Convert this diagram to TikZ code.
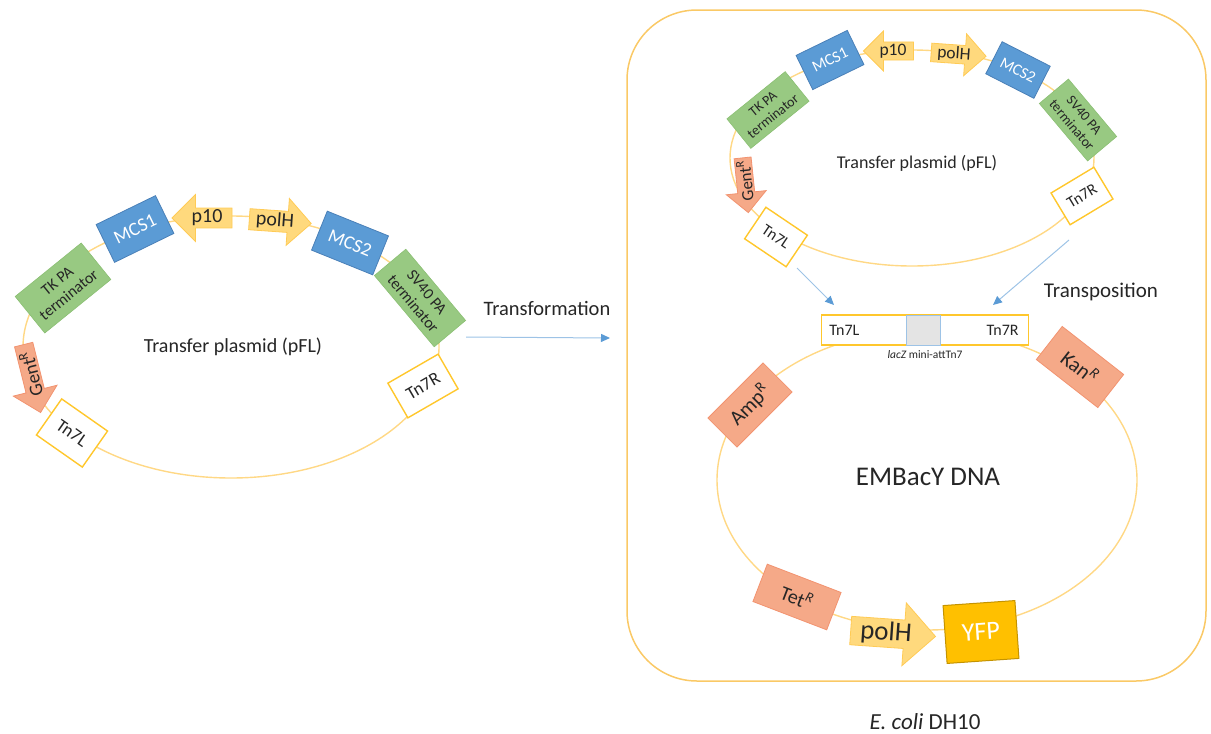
\documentclass[tikz,border=0pt]{standalone}
\usepackage{fontspec}
\setmainfont{Carlito}
\usetikzlibrary{positioning,shapes.arrows,arrows.meta}
\definecolor{bbline}{HTML}{FFD885}
\definecolor{cellline}{HTML}{FAC966}
\definecolor{mcsblue}{HTML}{5B9BD5}
\definecolor{mcsedge}{HTML}{4A80B8}
\definecolor{termgreen}{HTML}{98C982}
\definecolor{termedge}{HTML}{8BBF73}
\definecolor{resfill}{HTML}{F5A988}
\definecolor{resedge}{HTML}{F29370}
\definecolor{promfill}{HTML}{FFD97D}
\definecolor{promedge}{HTML}{FFCB55}
\definecolor{tnedge}{HTML}{FFC72C}
\definecolor{yfpfill}{HTML}{FFC000}
\definecolor{yfpedge}{HTML}{C49300}
\definecolor{flowline}{HTML}{9DC3E6}
\definecolor{flowtip}{HTML}{5B9BD5}
\definecolor{attgrey}{HTML}{E4E4E4}
\definecolor{textgrey}{HTML}{262626}
\newcommand\fsz[2]{\fontsize{#1}{#2}\selectfont}
\newcommand\ResR[1]{#1\textsuperscript{R}}
\tikzset{
  every node/.style={text=textgrey},
  backbone/.style={draw=bbline, line width=1.4pt},
  mcsbox/.style={draw=mcsedge, fill=mcsblue, text=white, inner sep=0pt, line width=0.8pt},
  termbox/.style={draw=termedge, fill=termgreen, align=center, inner sep=0pt, line width=0.6pt},
  tnbox/.style={draw=tnedge, fill=white, inner sep=0pt, line width=1.4pt},
  resbox/.style={draw=resedge, fill=resfill, inner sep=0pt, line width=0.8pt},
  promarrow/.style={single arrow, draw=promedge, fill=promfill, inner sep=0pt, line width=0.8pt},
  resarrow/.style={single arrow, draw=resedge, fill=resfill, inner sep=0pt, line width=0.8pt},
  flowarrow/.style={draw=flowline, line width=1pt, -{Triangle[width=8pt,length=9pt,color=flowtip]}},
}
\begin{document}
\begin{tikzpicture}[x=1pt,y=-1pt]
\useasboundingbox (0,0) rectangle (1211,734);
% Drawing cell
\draw[cellline, line width=1.5pt, rounded corners=70pt] (627,10) rectangle (1206,681);
% Drawing backbones
\draw[backbone] (231,347) ellipse (208 and 131);
\draw[backbone] (912,158) ellipse (182 and 108);
\draw[backbone] (927,480) ellipse (210 and 150);
% Done with backbones; drawing transfer plasmid (left)
\node[mcsbox, minimum width=66pt, minimum height=42pt, rotate=26, font=\fsz{19}{20}] (leftMCS1) at (135,229) {MCS1};
\node[promarrow, shape border rotate=180, minimum height=60pt, minimum width=47pt, single arrow head extend=11.5pt, font=\fsz{20}{22}] (leftP10) at (207,218) {p10};
\node[promarrow, rotate=-4, minimum height=62pt, minimum width=47pt, single arrow head extend=11pt, font=\fsz{20}{22}] (leftPolH) at (275,221) {polH};
\node[mcsbox, minimum width=66pt, minimum height=42pt, rotate=-22, font=\fsz{19}{20}] (leftMCS2) at (350,243) {MCS2};
\node[termbox, minimum width=93pt, minimum height=41pt, rotate=-50, font=\fsz{16}{18}] (leftSV40) at (420,298) {SV40 PA\\terminator};
\node[termbox, minimum width=85pt, minimum height=47pt, rotate=39, font=\fsz{16}{18}] (leftTK) at (63,288) {TK PA\\terminator};
\node[resarrow, rotate=104, shape border rotate=180, minimum height=70pt, minimum width=45pt, single arrow head extend=11pt, font=\fsz{19}{20}] (leftGent) at (31,374) {\ResR{Gent}};
\node[tnbox, minimum width=56pt, minimum height=44pt, rotate=-35, font=\fsz{18}{19}] (leftTn7L) at (72,433) {Tn7L};
\node[tnbox, minimum width=58pt, minimum height=40pt, rotate=30, font=\fsz{18}{19}] (leftTn7R) at (423,386) {Tn7R};
\node[font=\fsz{20}{22}] (leftName) at (233,347) {Transfer plasmid (pFL)};
% Transformation
\node[font=\fsz{20.5}{22}] (trfLabel) at (547,308) {Transformation};
\coordinate (trfStart) at (466,337);
\coordinate (trfEnd) at (610,338);
\draw[flowarrow] (trfStart) -- (trfEnd);
% Drawing transfer plasmid (in cell)
\node[mcsbox, minimum width=57pt, minimum height=38pt, rotate=26, font=\fsz{16}{17}] (rightMCS1) at (830,60) {MCS1};
\node[promarrow, shape border rotate=180, minimum height=50pt, minimum width=40pt, single arrow head extend=9pt, font=\fsz{17.5}{18}] (rightP10) at (893,51) {p10};
\node[promarrow, rotate=-4, minimum height=55pt, minimum width=42pt, single arrow head extend=10pt, font=\fsz{17.5}{18}] (rightPolH) at (954,54) {polH};
\node[mcsbox, minimum width=54pt, minimum height=36pt, rotate=-27, font=\fsz{16}{17}] (rightMCS2) at (1018,70) {MCS2};
\node[termbox, minimum width=75pt, minimum height=38pt, rotate=-50, font=\fsz{14}{16}] (rightSV40) at (1078,120) {SV40 PA\\terminator};
\node[termbox, minimum width=75pt, minimum height=38pt, rotate=39, font=\fsz{14}{16}] (rightTK) at (768,110) {TK PA\\terminator};
\node[resarrow, rotate=96, shape border rotate=180, minimum height=55pt, minimum width=40pt, single arrow head extend=10pt, font=\fsz{17}{18}] (rightGent) at (745,181) {\ResR{Gent}};
\node[tnbox, minimum width=50pt, minimum height=38pt, rotate=-34, font=\fsz{16}{17}] (rightTn7L) at (776,237) {Tn7L};
\node[tnbox, minimum width=50pt, minimum height=37pt, rotate=31, font=\fsz{16}{17}] (rightTn7R) at (1082,196) {Tn7R};
\node[font=\fsz{18}{20}] (rightName) at (917,163) {Transfer plasmid (pFL)};
% Transposition
\node[font=\fsz{21}{22}] (tpsLabel) at (1101,292) {Transposition};
\coordinate (tpsLStart) at (797,268);
\coordinate (tpsLEnd) at (834,305);
\coordinate (tpsRStart) at (1069,240);
\coordinate (tpsREnd) at (993,305);
\draw[flowarrow] (tpsLStart) -- (tpsLEnd);
\draw[flowarrow] (tpsRStart) -- (tpsREnd);
% Drawing EMBacY
\node[tnbox, minimum width=207pt, minimum height=30pt] (attBar) at (925,330) {};
\node[draw=flowline, fill=attgrey, line width=0.8pt, minimum width=34pt, minimum height=30pt, inner sep=0pt] (attGrey) at (923,330) {};
\node[font=\fsz{16}{17}, right=5pt of attBar.west] (attTn7L) {Tn7L};
\node[font=\fsz{16}{17}, left=7pt of attBar.east] (attTn7R) {Tn7R};
\node[font=\fsz{11.5}{12}, below=1pt of attBar] (attName) {{\itshape lacZ} mini-attTn7};
\node[resbox, minimum width=78pt, minimum height=41pt, rotate=45, font=\fsz{21}{22}] (embAmp) at (750,405) {\ResR{Amp}};
\node[resbox, minimum width=78pt, minimum height=42pt, rotate=-38, font=\fsz{21}{22}] (embKan) at (1080,367) {Kan\textsuperscript{\itshape R}};
\node[resbox, minimum width=79pt, minimum height=40pt, rotate=-21, font=\fsz{20}{21}] (embTet) at (797,597) {Tet\textsuperscript{\itshape R}};
\node[promarrow, rotate=-4, minimum height=85pt, minimum width=63pt, single arrow head extend=14.5pt, font=\fsz{27}{28}] (embPolH) at (886,633) {polH};
\node[draw=yfpedge, fill=yfpfill, text=white, line width=1pt, minimum width=72pt, minimum height=58pt, rotate=4, font=\fsz{26}{27}] (embYFP) at (981,632) {YFP};
\node[font=\fsz{27}{28}] (embName) at (928,477) {EMBacY DNA};
% Done with elements; drawing cell label
\node[font=\fsz{23}{24}] (cellName) at (925,722) {{\itshape E. coli} DH10};
\end{tikzpicture}
\end{document}
